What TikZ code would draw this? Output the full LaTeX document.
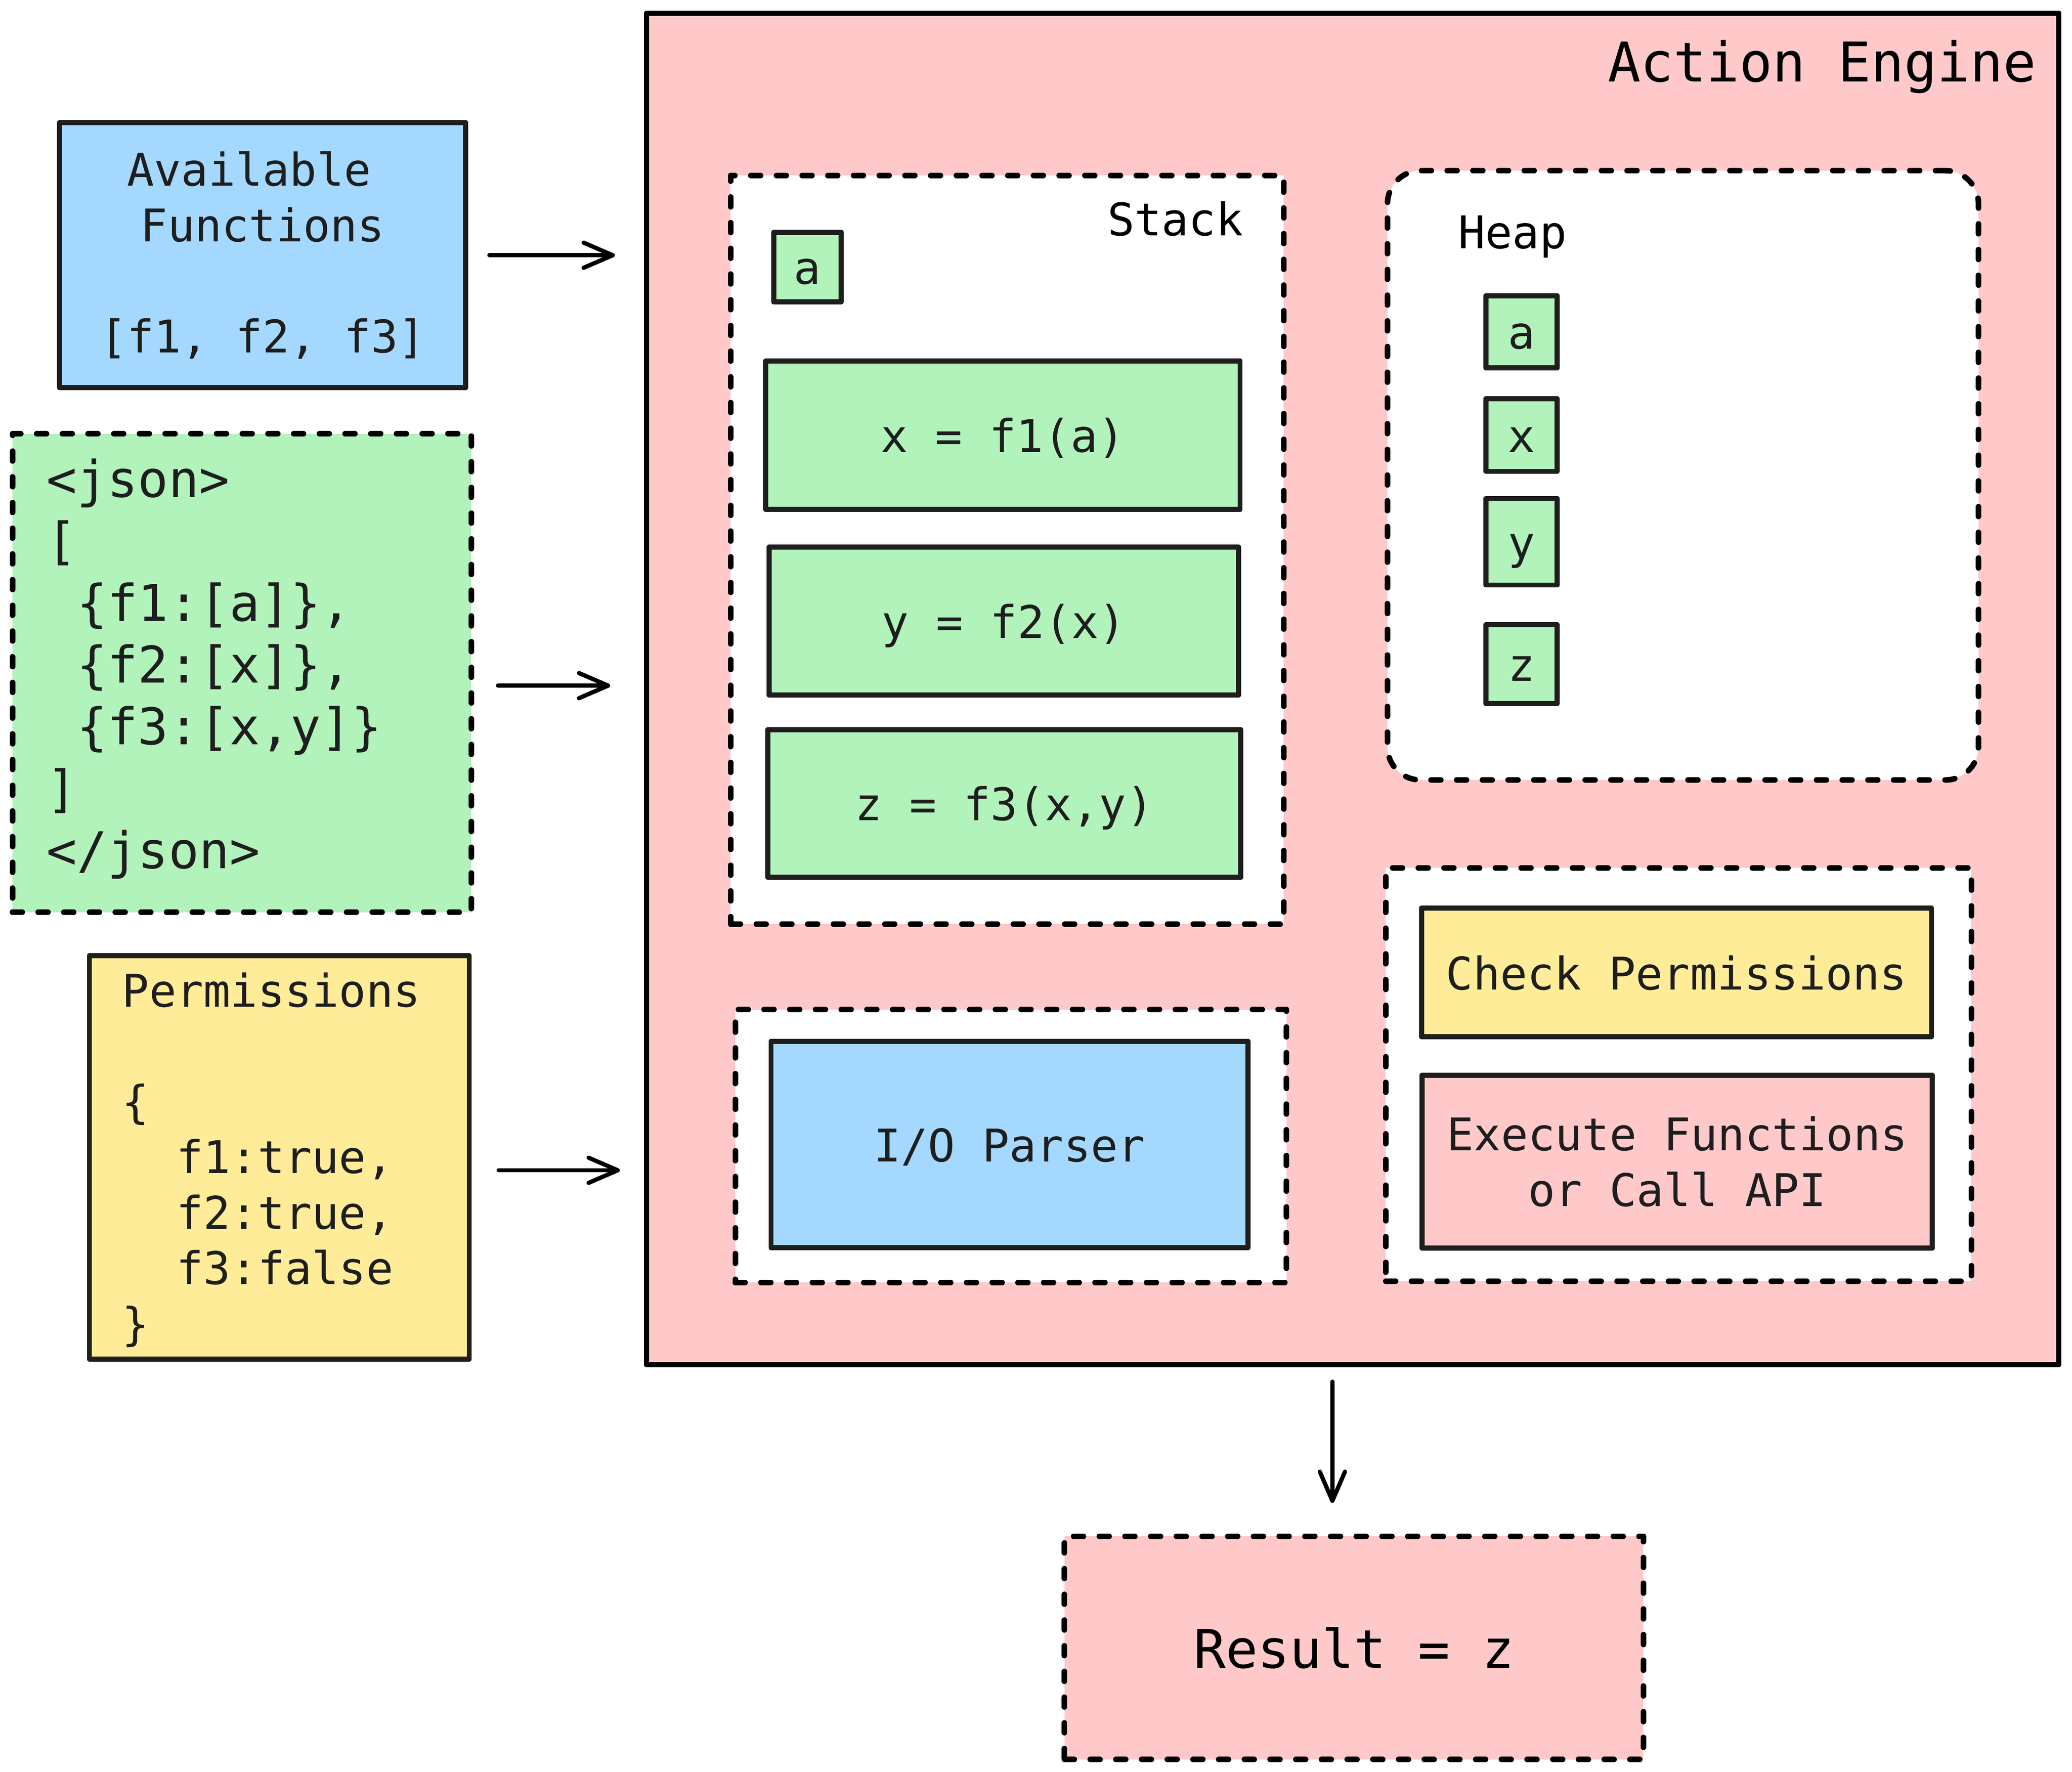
\documentclass[tikz,border=0pt]{standalone}
\usepackage{fontspec}
\setmonofont{DejaVu Sans Mono}
\usetikzlibrary{arrows.meta}

\definecolor{ink}{HTML}{1E1E1E}
\definecolor{bluefill}{HTML}{A5D8FF}
\definecolor{greenfill}{HTML}{B2F2BB}
\definecolor{yellowfill}{HTML}{FFEC99}
\definecolor{pinkfill}{HTML}{FFC9C9}

\newcommand{\codefont}{\ttfamily\fontsize{34}{41.9}\selectfont}
\newcommand{\jsonfont}{\ttfamily\fontsize{38.2}{46.7}\selectfont}
\newcommand{\titlefont}{\ttfamily\fontsize{41.3}{51.6}\selectfont}
\newcommand{\resultfont}{\ttfamily\fontsize{40.2}{50.2}\selectfont}

\tikzset{
  box/.style={draw=ink, line width=3.8pt, line join=round, inner sep=0pt, text=ink, font=\codefont},
  solo/.style={text height=25.8pt, text depth=0pt},
  dashedbox/.style={box, draw=black, line width=4.2pt, fill=white, dash pattern=on 7.4pt off 12pt, line cap=round},
  txt/.style={inner sep=0pt, text=ink, font=\codefont},
  link/.style={draw=black, line width=3.2pt, line cap=round, -{Straight Barb[length=22pt, width=19pt, round]}}
}

\begin{document}
\begin{tikzpicture}[x=1pt, y=-1pt]
  \fill [white] (0, 0) rectangle (1564, 1337.4);
  \useasboundingbox (0, 0) rectangle (1564, 1337.4);

  % Inputs
  \node [box, fill=bluefill, minimum width=306.5pt, minimum height=200pt, align=center] (avail) at (198.25, 192.65)
    {Available\hphantom{x}\\Functions\\~\\{[}f1, f2, f3]};
  \node [dashedbox, fill=greenfill, minimum width=346.4pt, minimum height=361.1pt] (json) at (182.6, 508) {};
  \node [txt, font=\jsonfont, align=left, anchor=west] (jsontext) at (35, 504.8)
    {<json>\\{[}\\\hphantom{x}\{f1:[a]\},\\\hphantom{x}\{f2:[x]\},\\\hphantom{x}\{f3:[x,y]\}\\]\\</json>};
  \node [box, fill=yellowfill, minimum width=286.7pt, minimum height=304.5pt] (perm) at (210.85, 873.55) {};
  \node [txt, align=left, anchor=west] (permtext) at (92, 875.5)
    {Permissions\\~\\\{\\\hphantom{xx}f1:true,\\\hphantom{xx}f2:true,\\\hphantom{xx}f3:false\\\}};

  % Action engine
  \node [box, draw=black, fill=pinkfill, minimum width=1066pt, minimum height=1020pt] (engine) at (1021, 520) {};
  \node [txt, font=\titlefont, text=black, anchor=base east] (title) at (1537, 61.7) {Action Engine};

  % Stack
  \node [dashedbox, minimum width=417.5pt, minimum height=565pt] (stack) at (760.25, 415) {};
  \node [txt, text=black, anchor=base east] (stacklabel) at (938.5, 177.7) {Stack};
  \node [box, solo, fill=greenfill, minimum width=51pt, minimum height=52.4pt] (sa) at (609.5, 201.6) {a};
  \node [box, solo, fill=greenfill, minimum width=358pt, minimum height=112pt] (f1) at (757, 328.5) {x = f1(a)};
  \node [box, solo, fill=greenfill, minimum width=354.4pt, minimum height=111.5pt] (f2) at (757.7, 468.75) {y = f2(x)};
  \node [box, solo, fill=greenfill, minimum width=356.9pt, minimum height=111.5pt] (f3) at (758.05, 606.45) {z = f3(x,y)};

  % Heap
  \node [dashedbox, rounded corners=25pt, minimum width=446.1pt, minimum height=459.9pt] (heap) at (1270.35, 358.75) {};
  \node [txt, text=black, anchor=base west] (heaplabel) at (1100.5, 187.6) {Heap};
  \node [box, solo, fill=greenfill, minimum width=53.6pt, minimum height=54.5pt] (ha) at (1148.5, 250.5) {a};
  \node [box, solo, fill=greenfill, minimum width=53.6pt, minimum height=54.8pt] (hx) at (1148.5, 328.4) {x};
  \node [box, solo, fill=greenfill, minimum width=53.6pt, minimum height=65.4pt] (hy) at (1148.5, 408.9) {y};
  \node [box, solo, fill=greenfill, minimum width=53.6pt, minimum height=59.4pt] (hz) at (1148.5, 501.3) {z};

  % Parser
  \node [dashedbox, minimum width=416pt, minimum height=206pt] (iogroup) at (763, 865) {};
  \node [box, solo, fill=bluefill, minimum width=360pt, minimum height=155.7pt] (parser) at (762, 863.85) {I/O Parser};

  % Permissions and execution
  \node [dashedbox, minimum width=442pt, minimum height=312pt] (rungroup) at (1267, 811) {};
  \node [box, solo, fill=yellowfill, minimum width=385pt, minimum height=97pt] (check) at (1265.5, 734) {Check Permissions};
  \node [box, fill=pinkfill, minimum width=385pt, minimum height=130.5pt, align=center] (exec) at (1266, 876.75)
    {Execute Functions\\or Call API};

  % Output
  \node [dashedbox, fill=pinkfill, font=\resultfont, text=black, text height=30.5pt, text depth=0pt, minimum width=437pt, minimum height=168.5pt] (result) at (1022, 1243.75) {Result = z};

  % Arrows
  \draw [link, shorten <=16pt, shorten >=22pt] (avail.east) -- (avail.east -| engine.west);
  \draw [link, shorten <=18pt, shorten >=25.5pt] ([yshift=-9.5pt]json.east) -- ([yshift=-9.5pt]json.east -| engine.west);
  \draw [link, shorten <=20.3pt, shorten >=18.2pt] ([yshift=-9.75pt]perm.east) -- ([yshift=-9.75pt]perm.east -| engine.west);
  \draw [link, shorten <=11pt, shorten >=23pt] ([xshift=-15.3pt]engine.south) -- ([xshift=-15.3pt]engine.south |- result.north);
\end{tikzpicture}
\end{document}
